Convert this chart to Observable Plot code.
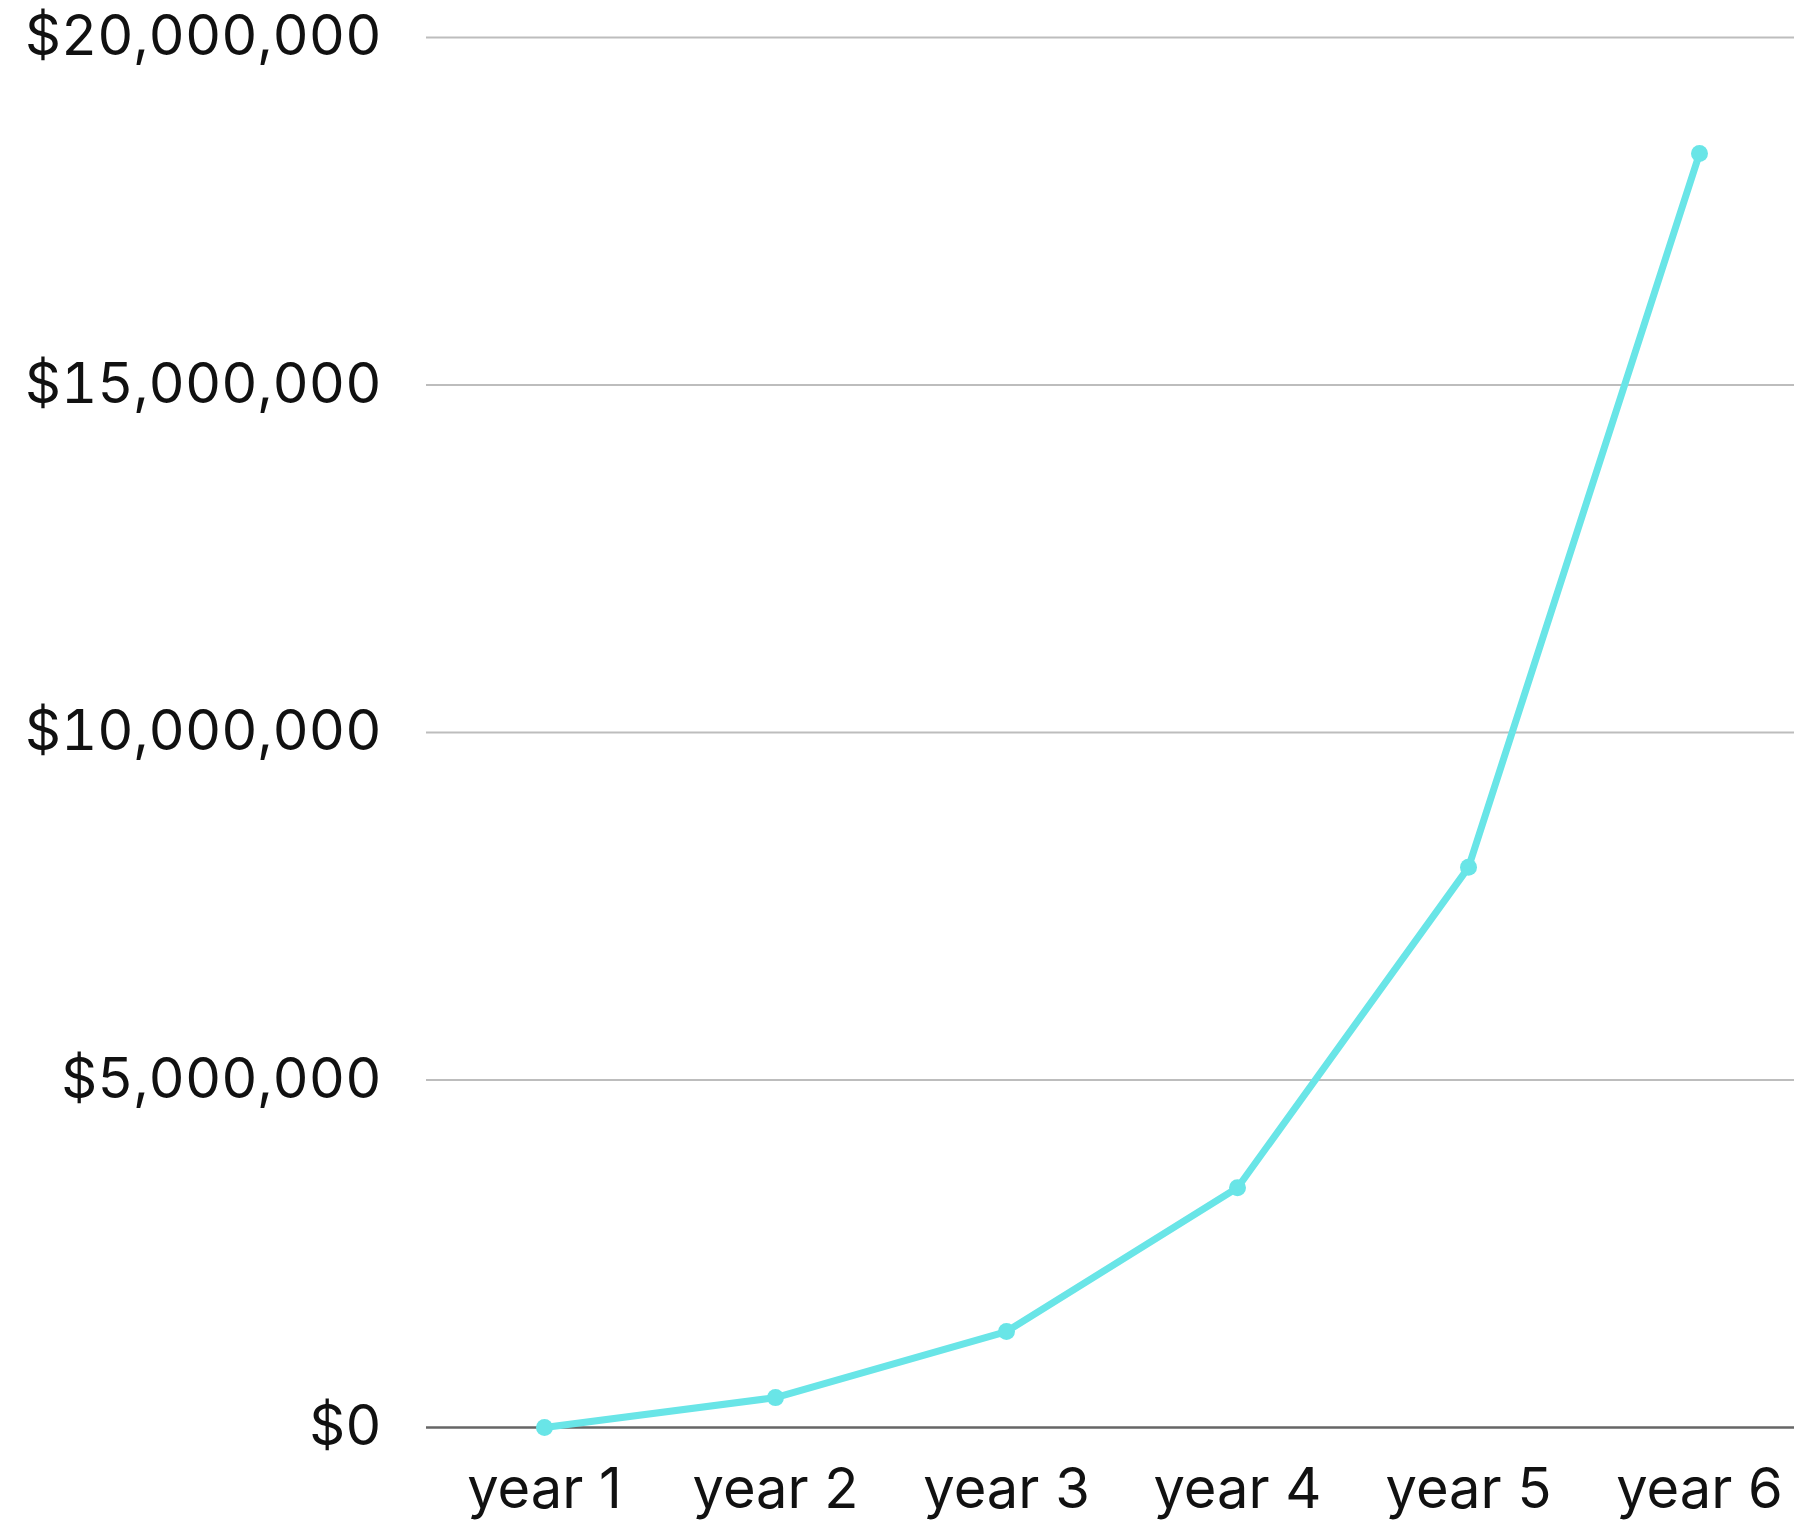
<!DOCTYPE html>
<html>
<head>
<meta charset="utf-8">
<script src="https://cdn.jsdelivr.net/npm/d3@7"></script>
<script src="https://cdn.jsdelivr.net/npm/@observablehq/plot@0.6"></script>
<style>
  html, body { margin: 0; padding: 0; background: #fff; }
  #chart svg { display: block; }
</style>
</head>
<body>
<div id="chart"></div>
<script>
const years = ["year 1", "year 2", "year 3", "year 4", "year 5", "year 6"];
const values = [0, 430000, 1380000, 3450000, 8060000, 18330000];
const yTicks = [0, 5000000, 10000000, 15000000, 20000000];

const data = years.map((year, i) => ({year, value: values[i]}));
const fmt = d3.format(",");

const chart = Plot.plot({
  width: 1794,
  height: 1521,
  marginLeft: 426,
  marginRight: 0,
  marginTop: 37,
  marginBottom: 94,
  style: {fontFamily: "Inter, 'Noto Sans', sans-serif", fontSize: "56px", color: "#111", background: "#fff"},
  x: {type: "point", domain: years, range: [426, 1817], padding: 0.5},
  y: {domain: [0, 20000000]},
  marks: [
    Plot.ruleY(yTicks.filter(d => d > 0), {stroke: "#bdbdbd", strokeWidth: 2}),
    Plot.ruleY([0], {stroke: "#666", strokeWidth: 2.5}),
    Plot.axisY({ticks: yTicks, tickFormat: d => "$" + fmt(d), tickSize: 0, tickPadding: 45, label: null, fontSize: 56}),
    Plot.axisX({tickSize: 0, tickPadding: 41, label: null, fontSize: 56}),
    Plot.line(data, {x: "year", y: "value", stroke: "#69e5e7", strokeWidth: 7}),
    Plot.dot(data, {x: "year", y: "value", r: 8.5, fill: "#69e5e7"})
  ]
});
document.getElementById("chart").append(chart);
</script>
</body>
</html>
